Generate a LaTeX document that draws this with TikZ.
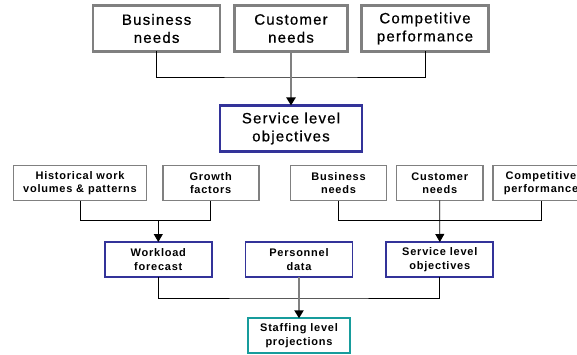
\documentclass[tikz,border=0pt]{standalone}
\usepackage{fontspec}
\setmainfont{Liberation Sans}
\newfontfamily\upperfont[LetterSpace=8,FakeBold=0.6]{Liberation Sans}
\newfontfamily\lowerfont[LetterSpace=7,BoldFont={Liberation Sans Bold}]{Liberation Sans}
\usetikzlibrary{arrows.meta}
\definecolor{boxgray}{HTML}{808080}
\definecolor{boxblue}{HTML}{333399}
\definecolor{boxteal}{HTML}{179C9C}
\begin{document}
\begin{tikzpicture}[x=1pt,y=-1pt,
  bigbox/.style={draw, line width=2.6pt, inner sep=0pt, outer sep=0pt, minimum height=46pt,
    align=center, font=\upperfont\fontsize{15}{18}\selectfont},
  smallbox/.style={draw, line width=1.8pt, inner sep=0pt, outer sep=0pt, minimum height=35pt,
    align=center, font=\lowerfont\bfseries\fontsize{11}{13.5}\selectfont},
  link/.style={draw=black, line width=0.8pt},
  tip/.style={-{Triangle[length=8pt,width=9pt,color=black]}},
  feed/.style={draw=boxgray, line width=2pt, tip}]
\clip (0,0) rectangle (577,355);
\fill[white] (0,0) rectangle (577,355);

% upper tier: inputs to the service level objectives
\node[bigbox, draw=boxgray, minimum width=127pt] (bn) at (156.6,28.5) {Business\\needs};
\node[bigbox, draw=boxgray, minimum width=113pt] (cn) at (291,28.5) {Customer\\needs};
\node[bigbox, draw=boxgray, minimum width=127pt] (cp) at (425,28.5) {Competitive\\performance};
\node[bigbox, draw=boxblue, minimum width=142pt] (slo) at (291,128.5) {Service level\\objectives};

\coordinate (j1) at (291,77);
\draw[link] (bn.south) |- (j1) -| (cp.south);
\draw[feed] (cn.south) -- (slo.north);

% lower tier: inputs
\node[smallbox, draw=boxgray, minimum width=133pt] (hw) at (80,183) {Historical work\\volumes \& patterns};
\node[smallbox, draw=boxgray, minimum width=96pt] (gf) at (210.7,183) {Growth\\factors};
\node[smallbox, draw=boxgray, minimum width=96pt] (bn2) at (338.5,183) {Business\\needs};
\node[smallbox, draw=boxgray, minimum width=86.5pt] (cn2) at (439.7,183) {Customer\\needs};
\node[smallbox, draw=boxgray, minimum width=96pt] (cp2) at (541,183) {Competitive\\performance};

% lower tier: intermediate results
\node[smallbox, draw=boxblue, minimum width=107pt] (wf) at (158.3,259.5) {Workload\\forecast};
\node[smallbox, draw=boxblue, minimum width=107pt] (pd) at (299,259.5) {Personnel\\data};
\node[smallbox, draw=boxblue, minimum width=107pt] (slo2) at (439.8,259.5) {Service level\\objectives};

% final result
\node[smallbox, draw=boxteal, minimum width=102pt] (sp) at (299,335.8) {Staffing level\\projections};

\coordinate (j2) at (158.3,220.7);
\coordinate (j3) at (439.8,220.7);
\coordinate (j4) at (299,298);

\draw[link] (hw.south) |- (j2) -| (gf.south);
\draw[link, tip] (j2) -- (wf.north);

\draw[link] (bn2.south) |- (j3) -| (cp2.south);
\draw[link, tip] (cn2.south) -- (slo2.north);

\draw[link] (wf.south) |- (j4) -| (slo2.south);
\draw[feed] (pd.south) -- (sp.north);
\end{tikzpicture}
\end{document}
